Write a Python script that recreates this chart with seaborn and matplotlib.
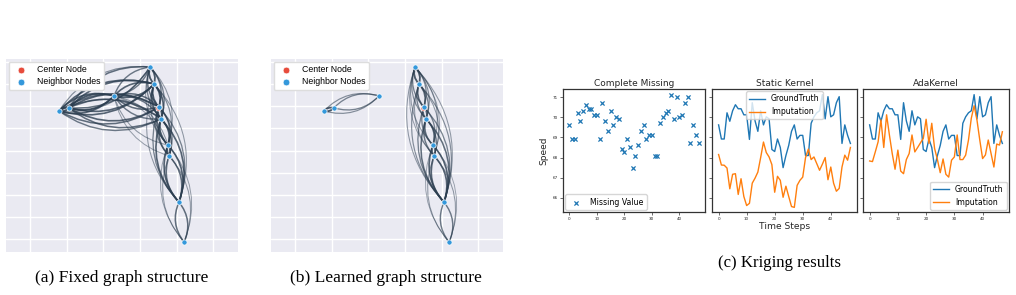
import matplotlib

matplotlib.use("Agg")
import matplotlib.pyplot as plt
from matplotlib.patches import FancyArrowPatch
import seaborn as sns
import numpy as np

# Nodos del grafo (coordenadas en el mapa)
node_x = [0.79, 1.06, 2.29, 3.27, 3.38, 3.51, 3.57, 3.76, 3.79, 4.06, 4.20]
node_y = [5.79, 5.93, 6.47, 7.78, 7.01, 5.97, 5.43, 4.25, 3.76, 1.67, -0.14]
center_x = [3.49]
center_y = [5.92]

# Aristas (i, j, peso)
fixed_edges = [
    (0, 1, 1.0), (0, 2, 0.9), (1, 2, 1.0), (0, 4, 0.9), (1, 4, 0.9),
    (1, 3, 0.8), (0, 3, 0.5), (2, 3, 0.7), (2, 4, 0.9), (0, 5, 0.8),
    (1, 5, 0.9), (1, 6, 0.8), (0, 6, 0.7), (2, 5, 0.8), (2, 6, 0.7),
    (3, 4, 1.0), (3, 5, 0.7), (3, 6, 0.6), (4, 5, 1.0), (4, 6, 0.9),
    (5, 6, 1.0), (2, 7, 0.4), (2, 8, 0.35), (3, 7, 0.4), (4, 7, 0.5),
    (5, 7, 0.8), (6, 7, 0.9), (6, 8, 0.8), (5, 8, 0.6), (7, 8, 1.0),
    (6, 9, 0.9), (7, 9, 0.9), (8, 9, 0.8), (5, 9, 0.6), (4, 9, 0.4),
    (9, 10, 0.8), (8, 10, 0.4), (7, 10, 0.35),
]
learned_edges = [
    (0, 1, 1.0), (0, 2, 0.5), (1, 2, 0.6), (3, 4, 1.0), (3, 5, 0.6),
    (3, 6, 0.5), (3, 7, 0.4), (3, 8, 0.35), (3, 9, 0.4), (4, 5, 0.9),
    (4, 6, 0.6), (4, 8, 0.4), (4, 9, 0.5), (5, 6, 0.9), (5, 7, 0.6),
    (5, 9, 0.6), (6, 7, 0.8), (6, 8, 0.7), (6, 9, 0.8), (7, 8, 0.9),
    (7, 9, 0.9), (8, 9, 0.9), (9, 10, 0.7), (8, 10, 0.4), (7, 10, 0.3),
]

# Kriging: velocidad por paso de tiempo
steps = np.arange(48)
ground_truth = [
    69.62, 68.92, 68.92, 70.22, 69.80, 70.32, 70.62, 70.42, 70.42, 70.12,
    70.12, 68.90, 70.72, 69.82, 69.30, 70.32, 69.62, 70.02, 69.92, 68.40,
    68.30, 68.92, 68.50, 67.50, 68.10, 68.60, 69.30, 69.62, 68.92, 69.10,
    69.10, 68.10, 68.10, 69.70, 70.02, 70.22, 70.32, 71.12, 69.92, 71.02,
    70.02, 70.12, 70.72, 71.02, 68.70, 69.62, 69.10, 68.70,
]
static_imputation = [
    68.15, 67.63, 67.62, 67.48, 66.45, 67.17, 67.20, 66.17, 66.95, 66.07,
    65.62, 65.73, 66.73, 66.98, 67.28, 68.00, 68.77, 68.25, 68.03, 67.65,
    66.28, 67.07, 66.87, 66.03, 66.58, 66.07, 65.57, 65.53, 66.62, 66.87,
    67.03, 68.00, 68.42, 67.90, 68.03, 67.70, 67.37, 67.67, 68.00, 66.90,
    67.53, 66.73, 66.33, 66.47, 67.53, 68.12, 67.87, 68.50,
]
ada_imputation = [
    67.83, 67.80, 68.28, 68.78, 69.87, 68.50, 70.12, 69.12, 68.20, 67.42,
    68.37, 67.33, 67.20, 67.90, 68.20, 69.12, 68.28, 68.50, 68.73, 68.95,
    69.90, 68.70, 69.70, 68.45, 67.90, 67.25, 67.93, 67.17, 67.03, 67.87,
    68.03, 69.12, 67.90, 67.90, 68.12, 68.87, 69.95, 70.57, 69.87, 68.87,
    67.95, 68.13, 68.87, 68.20, 67.53, 68.67, 68.62, 69.28,
]

W, H = 1016, 295


def caja(l, t, r, b):
    return [l / W, 1 - b / H, (r - l) / W, (b - t) / H]


def dibujar_grafo(ax, edges):
    for i, j, w in edges:
        for a, b in ((i, j), (j, i)):
            arco = FancyArrowPatch(
                (node_x[a], node_y[a]),
                (node_x[b], node_y[b]),
                connectionstyle="arc3,rad=0.3",
                arrowstyle="-",
                color="#2c3e50",
                alpha=0.25 + 0.6 * w,
                lw=0.4 + 0.9 * w,
                shrinkA=0,
                shrinkB=0,
                zorder=2,
            )
            ax.add_patch(arco)
    sns.scatterplot(
        x=center_x, y=center_y, color="#e74c3c", s=14, edgecolor="white",
        linewidth=0.5, label="Center Node", ax=ax, zorder=3,
    )
    sns.scatterplot(
        x=node_x, y=node_y, color="#3498db", s=14, edgecolor="white",
        linewidth=0.5, label="Neighbor Nodes", ax=ax, zorder=4,
    )
    ax.set_xlim(-0.654, 5.668)
    ax.set_ylim(-0.588, 8.14)
    ax.set_xticks(range(6))
    ax.set_yticks(range(9))
    ax.tick_params(labelbottom=False, labelleft=False, length=0)
    ax.grid(True, color="white", linewidth=1.0)
    ax.set_axisbelow(True)
    for s in ax.spines.values():
        s.set_visible(False)
    ax.legend(
        loc="upper left",
        prop={"family": "Liberation Sans", "size": 6.3},
        frameon=True,
        facecolor="white",
        framealpha=1.0,
        edgecolor="#dddddd",
        borderaxespad=0.3,
        handletextpad=0.8,
        borderpad=0.4,
        labelspacing=0.35,
        markerscale=1.3,
    )


fig = plt.figure(figsize=(10.16, 2.95), dpi=100)

with sns.axes_style("darkgrid"):
    ax_a = fig.add_axes(caja(6, 59, 238, 252))
    ax_b = fig.add_axes(caja(271, 59, 503, 252))

plt.rcParams["font.family"] = ["DejaVu Sans"]

dibujar_grafo(ax_a, fixed_edges)
dibujar_grafo(ax_b, learned_edges)

with sns.axes_style("ticks"):
    ax1 = fig.add_axes(caja(563, 89, 705, 212))
    ax2 = fig.add_axes(caja(712, 89, 857, 212), sharey=ax1)
    ax3 = fig.add_axes(caja(863, 89, 1009, 212), sharey=ax1)

sns.scatterplot(
    x=steps, y=ground_truth, marker="x", color="#1f77b4", s=9,
    linewidth=0.9, label="Missing Value", ax=ax1,
)
sns.lineplot(x=steps, y=ground_truth, color="#1f77b4", lw=1.0, label="GroundTruth", ax=ax2)
sns.lineplot(x=steps, y=static_imputation, color="#ff7f0e", lw=1.0, label="Imputation", ax=ax2)
sns.lineplot(x=steps, y=ground_truth, color="#1f77b4", lw=1.0, label="GroundTruth", ax=ax3)
sns.lineplot(x=steps, y=ada_imputation, color="#ff7f0e", lw=1.0, label="Imputation", ax=ax3)

titulos = ["Complete Missing", "Static Kernel", "AdaKernel"]
posiciones = ["lower left", "upper center", "lower right"]
for ax, titulo, pos in zip([ax1, ax2, ax3], titulos, posiciones):
    ax.set_title(titulo, fontsize=6.5, pad=2)
    ax.set_xticks([0, 10, 20, 30, 40])
    ax.set_yticks([66, 67, 68, 69, 70, 71])
    ax.tick_params(labelsize=3, length=2, width=0.5, pad=1.5, color="#333333")
    for s in ax.spines.values():
        s.set_color("#333333")
        s.set_linewidth(0.9)
        s.set_visible(True)
    ax.set_xlabel("")
    ax.set_ylabel("")
    ax.legend(loc=pos, fontsize=5.6, borderaxespad=0.3, handlelength=2.0)

ax1.set_ylim(65.3, 71.4)
ax2.tick_params(labelleft=False)
ax3.tick_params(labelleft=False)
ax1.set_ylabel("Speed", fontsize=6.5, labelpad=3)
ax2.set_xlabel("Time Steps", fontsize=6.6, labelpad=1)

# Subtítulos
fig.text(122 / W, 1 - 278 / H, "(a) Fixed graph structure", ha="center", va="center",
         family="Liberation Serif", fontsize=12.6)
fig.text(386 / W, 1 - 278 / H, "(b) Learned graph structure", ha="center", va="center",
         family="Liberation Serif", fontsize=12.6)
fig.text(779 / W, 1 - 263 / H, "(c) Kriging results", ha="center", va="center",
         family="Liberation Serif", fontsize=12.1)

fig.savefig("out.png", dpi=100)
